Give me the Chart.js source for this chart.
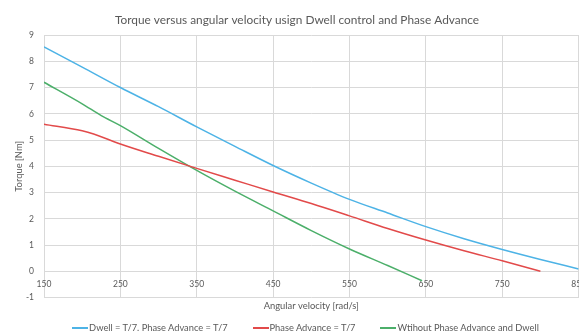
<!DOCTYPE html>
<html>
<head>
<meta charset="utf-8">
<script src="https://cdn.jsdelivr.net/npm/chart.js@4.4.0/dist/chart.umd.min.js"></script>
<style>
  html, body { margin: 0; padding: 0; background: #fff; overflow: hidden; }
  #wrap { position: relative; width: 579px; height: 331px; overflow: hidden; }
  #chart { position: absolute; left: 0; top: 0; }
  #legend {
    position: absolute; left: 0; top: 321px; width: 611px; height: 13px; line-height: 13px;
    display: flex; justify-content: center; align-items: center; gap: 25px;
    font: 9.3px Lato, sans-serif; color: #595959;
  }
  #legend .item { display: flex; align-items: center; white-space: nowrap; }
  #legend .swatch { display: inline-block; width: 16px; height: 2px; margin-right: 1px; }
</style>
</head>
<body>
<div id="wrap">
  <canvas id="chart" width="594" height="331"></canvas>
  <div id="legend"></div>
</div>
<script>
// ---------------------- Data ----------------------
const SPEED_TICKS = [150, 250, 350, 450, 550, 650, 750, 850];

const SERIES_NAMES = [
  'Dwell = T/7. Phase Advance = T/7',
  'Phase Advance = T/7',
  'Wtihout Phase Advance and Dwell',
];
const SERIES_COLORS = ['#4db3e6', '#e24a4a', '#4caf6a'];

// Dwell + phase advance
const DWELL_PA_SPEED  = [150, 200, 250, 300, 350, 400, 450, 500, 550, 600, 650, 700, 750, 800, 850];
const DWELL_PA_TORQUE = [8.55, 7.78, 7.0, 6.27, 5.5, 4.76, 4.03, 3.36, 2.74, 2.22, 1.70, 1.24, 0.83, 0.45, 0.09];

// Phase advance only
const PA_SPEED  = [150, 200, 215, 250, 300, 350, 400, 450, 500, 550, 600, 650, 700, 750, 800];
const PA_TORQUE = [5.6, 5.35, 5.23, 4.85, 4.38, 3.92, 3.47, 3.02, 2.58, 2.11, 1.63, 1.19, 0.78, 0.40, 0.0];

// No phase advance, no dwell
const PLAIN_SPEED  = [150, 200, 225, 250, 300, 350, 400, 450, 500, 550, 600, 645];
const PLAIN_TORQUE = [7.2, 6.38, 5.93, 5.55, 4.68, 3.84, 3.05, 2.3, 1.55, 0.85, 0.22, -0.36];

// ---------------------- Helpers ----------------------
const FONT = 'Lato, sans-serif';
const TEXT = '#595959';
const GRID = '#d9d9d9';

const toPoints = (xs, ys) => xs.map((x, i) => ({ x, y: ys[i] }));
const fixedTicks = (scale) => { scale.ticks = SPEED_TICKS.map(v => ({ value: v })); };

function series(idx, xs, ys) {
  return {
    label: SERIES_NAMES[idx],
    data: toPoints(xs, ys),
    borderColor: SERIES_COLORS[idx],
    backgroundColor: SERIES_COLORS[idx],
    borderWidth: 1.5,
    pointRadius: 0,
    fill: false,
    cubicInterpolationMode: 'monotone',
  };
}

// ---------------------- Chart ----------------------
const chart = new Chart(document.getElementById('chart'), {
  type: 'line',
  data: {
    datasets: [
      series(0, DWELL_PA_SPEED, DWELL_PA_TORQUE),
      series(1, PA_SPEED, PA_TORQUE),
      series(2, PLAIN_SPEED, PLAIN_TORQUE),
    ],
  },
  options: {
    responsive: false,
    animation: false,
    layout: { padding: { left: 0, right: 0, top: 0, bottom: 19.6 } },
    plugins: {
      legend: { display: false },
      tooltip: { enabled: false },
      title: {
        display: true,
        text: 'Torque versus angular velocity usign Dwell control and Phase Advance',
        color: TEXT,
        font: { family: FONT, size: 11.85, weight: 'normal' },
        padding: { top: 13.5, bottom: 7.3 },
      },
    },
    scales: {
      x: {
        type: 'linear',
        position: 'bottom',
        min: 150,
        max: 850,
        afterBuildTicks: fixedTicks,
        ticks: { display: false },
        grid: { color: GRID, lineWidth: 1, drawTicks: false },
        border: { display: false },
        title: {
          display: true,
          text: 'Angular velocity [rad/s]',
          color: TEXT,
          font: { family: FONT, size: 9.4 },
          padding: { top: 2.6, bottom: 0 },
        },
      },
      // tick labels sit on the zero line
      xZero: {
        type: 'linear',
        axis: 'x',
        position: { y: 0 },
        min: 150,
        max: 850,
        afterBuildTicks: fixedTicks,
        ticks: { color: TEXT, font: { family: FONT, size: 8.5 }, padding: 8, maxRotation: 0, autoSkip: false },
        grid: { display: false, drawTicks: false },
        border: { display: false },
      },
      y: {
        type: 'linear',
        min: -1,
        max: 9,
        afterFit: (s) => { s.width = 44; },
        ticks: { stepSize: 1, color: TEXT, font: { family: FONT, size: 8.5 }, padding: 10 },
        grid: { color: GRID, lineWidth: 1, drawTicks: false },
        border: { display: false },
        title: {
          display: true,
          text: 'Torque [Nm]',
          color: TEXT,
          font: { family: FONT, size: 9.4 },
          padding: { top: 12.9, bottom: 0 },
        },
      },
    },
  },
});

// ---------------------- Legend ----------------------
const legend = document.getElementById('legend');
chart.data.datasets.forEach(ds => {
  const item = document.createElement('span');
  item.className = 'item';
  const sw = document.createElement('span');
  sw.className = 'swatch';
  sw.style.backgroundColor = ds.borderColor;
  item.appendChild(sw);
  item.appendChild(document.createTextNode(ds.label));
  legend.appendChild(item);
});
</script>
</body>
</html>
